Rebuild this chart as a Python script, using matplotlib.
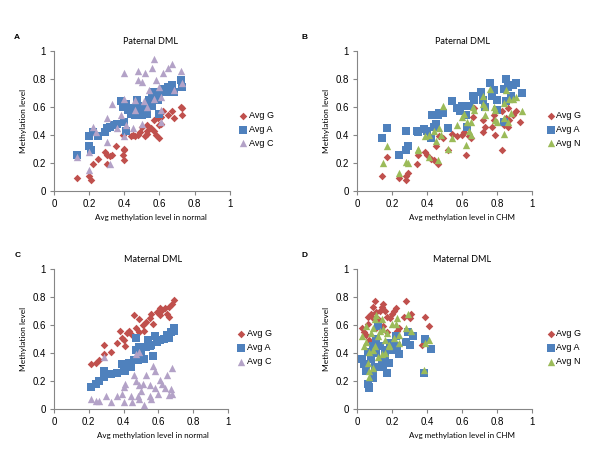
import matplotlib.pyplot as plt

# ---- data (x, y pairs) ----
# Panel A: Paternal DML vs normal
A_G_x = [0.13, 0.20, 0.21, 0.22, 0.25, 0.29, 0.30, 0.30, 0.32, 0.33, 0.35, 0.39, 0.39, 0.40, 0.40, 0.40, 0.44, 0.45, 0.46, 0.48, 0.49,
         0.50, 0.52, 0.53, 0.53, 0.53, 0.55, 0.57, 0.57, 0.58, 0.59, 0.60, 0.60, 0.61, 0.62, 0.65, 0.67, 0.68, 0.72, 0.73, 0.73, 0.61]
A_G_y = [0.09, 0.11, 0.08, 0.19, 0.23, 0.28, 0.26, 0.19, 0.25, 0.26, 0.32, 0.40, 0.26, 0.29, 0.22, 0.30, 0.39, 0.40, 0.39, 0.40, 0.42,
         0.46, 0.39, 0.43, 0.47, 0.41, 0.45, 0.51, 0.43, 0.40, 0.52, 0.47, 0.38, 0.53, 0.57, 0.54, 0.57, 0.52, 0.60, 0.54, 0.59, 0.48]
A_A_x = [0.13, 0.20, 0.20, 0.21, 0.22, 0.25, 0.29, 0.30, 0.32, 0.34, 0.36, 0.38, 0.39, 0.40, 0.41, 0.41, 0.42, 0.44, 0.45, 0.46, 0.47,
         0.48, 0.49, 0.50, 0.51, 0.53, 0.54, 0.55, 0.56, 0.57, 0.59, 0.60, 0.60, 0.62, 0.64, 0.65, 0.67, 0.68, 0.72, 0.73, 0.53, 0.56]
A_A_y = [0.26, 0.32, 0.39, 0.29, 0.42, 0.39, 0.42, 0.45, 0.46, 0.47, 0.48, 0.64, 0.60, 0.49, 0.43, 0.62, 0.58, 0.55, 0.59, 0.54, 0.65,
         0.61, 0.59, 0.54, 0.59, 0.61, 0.65, 0.62, 0.68, 0.71, 0.65, 0.70, 0.55, 0.73, 0.71, 0.74, 0.76, 0.71, 0.79, 0.74, 0.55, 0.61]
A_C_x = [0.13, 0.20, 0.20, 0.22, 0.24, 0.30, 0.30, 0.32, 0.33, 0.36, 0.38, 0.40, 0.40, 0.40, 0.41, 0.45, 0.46, 0.46, 0.48, 0.48,
         0.50, 0.51, 0.52, 0.53, 0.54, 0.56, 0.57, 0.58, 0.57, 0.60, 0.61, 0.61, 0.62, 0.65, 0.67, 0.68, 0.72, 0.73, 0.61, 0.50]
A_C_y = [0.24, 0.28, 0.15, 0.46, 0.42, 0.52, 0.35, 0.19, 0.62, 0.45, 0.54, 0.39, 0.84, 0.66, 0.47, 0.45, 0.65, 0.58, 0.86, 0.79,
         0.78, 0.64, 0.84, 0.60, 0.72, 0.88, 0.94, 0.79, 0.66, 0.74, 0.58, 0.49, 0.84, 0.88, 0.91, 0.72, 0.86, 0.77, 0.67, 0.48]

# Panel B: Paternal DML vs CHM
B_G_x = [0.14, 0.17, 0.24, 0.28, 0.28, 0.29, 0.34, 0.35, 0.39, 0.40, 0.42, 0.44, 0.45, 0.46, 0.47, 0.49, 0.52, 0.54, 0.57, 0.60, 0.61, 0.62,
         0.64, 0.65, 0.66, 0.67, 0.72, 0.72, 0.73, 0.77, 0.78, 0.78, 0.79, 0.83, 0.83, 0.84, 0.85, 0.86, 0.87, 0.89, 0.91, 0.93, 0.86]
B_G_y = [0.11, 0.24, 0.09, 0.08, 0.11, 0.13, 0.19, 0.26, 0.28, 0.26, 0.23, 0.22, 0.32, 0.19, 0.39, 0.38, 0.29, 0.41, 0.39, 0.40, 0.42, 0.26,
         0.39, 0.38, 0.53, 0.59, 0.51, 0.42, 0.46, 0.46, 0.51, 0.54, 0.40, 0.29, 0.57, 0.47, 0.52, 0.59, 0.51, 0.54, 0.57, 0.49, 0.46]
B_A_x = [0.14, 0.17, 0.24, 0.28, 0.28, 0.29, 0.34, 0.35, 0.38, 0.40, 0.42, 0.43, 0.44, 0.45, 0.46, 0.47, 0.49, 0.52, 0.54, 0.57, 0.59, 0.60,
         0.62, 0.63, 0.64, 0.66, 0.67, 0.71, 0.72, 0.73, 0.76, 0.77, 0.78, 0.80, 0.80, 0.84, 0.84, 0.85, 0.85, 0.86, 0.88, 0.89, 0.91, 0.94]
B_A_y = [0.38, 0.45, 0.26, 0.43, 0.29, 0.32, 0.43, 0.42, 0.44, 0.43, 0.38, 0.54, 0.46, 0.48, 0.54, 0.56, 0.56, 0.45, 0.64, 0.59, 0.57, 0.61,
         0.54, 0.46, 0.61, 0.68, 0.65, 0.71, 0.65, 0.60, 0.77, 0.68, 0.72, 0.65, 0.58, 0.49, 0.73, 0.80, 0.64, 0.74, 0.68, 0.76, 0.77, 0.70]
B_N_x = [0.15, 0.17, 0.24, 0.28, 0.29, 0.35, 0.35, 0.39, 0.41, 0.41, 0.44, 0.45, 0.46, 0.47, 0.48, 0.49, 0.52, 0.54, 0.57, 0.60, 0.61, 0.62,
         0.63, 0.64, 0.65, 0.65, 0.66, 0.67, 0.72, 0.72, 0.73, 0.73, 0.76, 0.78, 0.79, 0.79, 0.80, 0.84, 0.84, 0.84, 0.85, 0.86, 0.88, 0.89,
         0.91, 0.94, 0.87]
B_N_y = [0.20, 0.32, 0.13, 0.21, 0.20, 0.30, 0.29, 0.39, 0.40, 0.24, 0.43, 0.36, 0.22, 0.45, 0.40, 0.61, 0.30, 0.38, 0.47, 0.53, 0.55, 0.33,
         0.49, 0.43, 0.49, 0.40, 0.60, 0.58, 0.68, 0.62, 0.54, 0.60, 0.73, 0.60, 0.58, 0.51, 0.49, 0.63, 0.52, 0.41, 0.72, 0.49, 0.56, 0.66,
         0.67, 0.57, 0.66]

# Panel C: Maternal DML vs normal
C_G_x = [0.21, 0.24, 0.26, 0.29, 0.29, 0.33, 0.36, 0.38, 0.39, 0.40, 0.41, 0.42, 0.43, 0.45, 0.46, 0.47, 0.49, 0.49, 0.51, 0.52, 0.53,
         0.55, 0.56, 0.57, 0.59, 0.61, 0.62, 0.64, 0.65, 0.66, 0.66, 0.68, 0.69, 0.61]
C_G_y = [0.32, 0.33, 0.35, 0.46, 0.39, 0.41, 0.47, 0.56, 0.51, 0.49, 0.45, 0.54, 0.56, 0.53, 0.67, 0.58, 0.64, 0.55, 0.60, 0.56, 0.62,
         0.65, 0.68, 0.61, 0.69, 0.67, 0.71, 0.72, 0.68, 0.73, 0.66, 0.75, 0.78, 0.72]
C_A_x = [0.21, 0.24, 0.26, 0.29, 0.29, 0.33, 0.36, 0.39, 0.40, 0.41, 0.43, 0.44, 0.46, 0.47, 0.47, 0.48, 0.49, 0.50, 0.52, 0.53, 0.54,
         0.56, 0.57, 0.58, 0.59, 0.61, 0.63, 0.65, 0.66, 0.67, 0.69, 0.69, 0.55]
C_A_y = [0.16, 0.18, 0.20, 0.23, 0.27, 0.25, 0.26, 0.32, 0.29, 0.27, 0.33, 0.30, 0.35, 0.51, 0.42, 0.35, 0.44, 0.40, 0.36, 0.44, 0.49,
         0.46, 0.38, 0.52, 0.48, 0.49, 0.50, 0.53, 0.51, 0.55, 0.58, 0.56, 0.45]
C_C_x = [0.21, 0.24, 0.26, 0.29, 0.30, 0.33, 0.36, 0.39, 0.40, 0.41, 0.40, 0.44, 0.45, 0.46, 0.47, 0.47, 0.48, 0.49, 0.49, 0.49, 0.50,
         0.51, 0.52, 0.53, 0.55, 0.55, 0.56, 0.57, 0.58, 0.58, 0.60, 0.61, 0.62, 0.64, 0.65, 0.66, 0.67, 0.68, 0.68]
C_C_y = [0.07, 0.06, 0.06, 0.37, 0.09, 0.05, 0.09, 0.11, 0.16, 0.18, 0.05, 0.09, 0.05, 0.24, 0.39, 0.20, 0.09, 0.17, 0.41, 0.07, 0.13,
         0.18, 0.03, 0.24, 0.17, 0.09, 0.07, 0.31, 0.27, 0.15, 0.11, 0.21, 0.18, 0.15, 0.24, 0.10, 0.14, 0.29, 0.11]

# Panel D: Maternal DML vs CHM
D_G_x = [0.03, 0.04, 0.05, 0.06, 0.08, 0.09, 0.09, 0.10, 0.11, 0.12, 0.13, 0.14, 0.15, 0.15, 0.16, 0.17, 0.19, 0.20, 0.21, 0.22, 0.23,
         0.24, 0.27, 0.28, 0.30, 0.31, 0.39, 0.37, 0.41, 0.07, 0.11, 0.17, 0.06]
D_G_y = [0.58, 0.55, 0.53, 0.61, 0.68, 0.65, 0.73, 0.77, 0.69, 0.64, 0.70, 0.73, 0.75, 0.59, 0.70, 0.66, 0.65, 0.68, 0.70, 0.72, 0.56,
         0.58, 0.66, 0.77, 0.65, 0.68, 0.66, 0.46, 0.59, 0.49, 0.58, 0.55, 0.66]
D_A_x = [0.03, 0.04, 0.05, 0.06, 0.07, 0.07, 0.08, 0.09, 0.09, 0.10, 0.11, 0.12, 0.13, 0.14, 0.15, 0.16, 0.16, 0.17, 0.18, 0.19, 0.20,
         0.22, 0.23, 0.24, 0.28, 0.29, 0.30, 0.32, 0.38, 0.39, 0.42, 0.09, 0.06, 0.11, 0.17]
D_A_y = [0.36, 0.32, 0.27, 0.18, 0.16, 0.15, 0.36, 0.24, 0.22, 0.30, 0.40, 0.59, 0.45, 0.34, 0.30, 0.40, 0.35, 0.26, 0.33, 0.47, 0.42,
         0.52, 0.45, 0.39, 0.48, 0.55, 0.46, 0.52, 0.26, 0.50, 0.43, 0.45, 0.41, 0.50, 0.42]
D_N_x = [0.03, 0.04, 0.05, 0.06, 0.07, 0.07, 0.08, 0.09, 0.09, 0.09, 0.10, 0.11, 0.12, 0.12, 0.13, 0.14, 0.15, 0.16, 0.16, 0.17, 0.18,
         0.20, 0.21, 0.22, 0.23, 0.24, 0.24, 0.28, 0.29, 0.31, 0.38, 0.39, 0.41, 0.10, 0.07, 0.14, 0.18, 0.05]
D_N_y = [0.52, 0.45, 0.48, 0.33, 0.27, 0.23, 0.54, 0.42, 0.29, 0.58, 0.64, 0.67, 0.52, 0.37, 0.56, 0.64, 0.57, 0.49, 0.40, 0.54, 0.46,
         0.61, 0.51, 0.61, 0.65, 0.47, 0.53, 0.58, 0.68, 0.56, 0.28, 0.47, 0.49, 0.45, 0.41, 0.39, 0.45, 0.59]

RED = "#C0504D"
BLUE = "#4F81BD"
GREEN = "#9BBB59"
LILAC = "#B3A2C7"
GREY = "#868686"

fig = plt.figure(figsize=(6, 4.5), dpi=100)
plt.rcParams['font.family'] = ['Liberation Sans', 'DejaVu Sans']


def panel(pos, letter, title, xlabel, series, leg_x, title_x, letter_x):
    ax = fig.add_axes(pos)
    for xs, ys, mk, col, lab, sz in series:
        ax.scatter(xs, ys, marker=mk, s=sz, color=col, label=lab, linewidths=0, zorder=3)
    ax.set_xlim(0, 1)
    ax.set_ylim(0, 1)
    ax.set_xticks([0, 0.2, 0.4, 0.6, 0.8, 1])
    ax.set_yticks([0, 0.2, 0.4, 0.6, 0.8, 1])
    ax.set_xticklabels(["0", "0.2", "0.4", "0.6", "0.8", "1"])
    ax.set_yticklabels(["0", "0.2", "0.4", "0.6", "0.8", "1"])
    for s in ["top", "right"]:
        ax.spines[s].set_visible(False)
    for s in ["left", "bottom"]:
        ax.spines[s].set_color(GREY)
        ax.spines[s].set_linewidth(0.8)
    ax.tick_params(direction="out", length=3, width=0.8, color=GREY, labelsize=7, pad=3)
    ax.text(title_x, 1.07, title, transform=ax.transAxes, ha="center", va="center", fontsize=6.5, family="Lato")
    ax.text(title_x, -0.19, xlabel, transform=ax.transAxes, ha="center", va="center", fontsize=5.8, family="Lato")
    ax.set_ylabel("Methylation level", fontsize=6, family="Lato", labelpad=4)
    ax.text(letter_x, 1.1, letter, transform=ax.transAxes, ha="center", va="center", fontsize=6, fontweight="bold")
    ax.legend(loc="center left", bbox_to_anchor=(leg_x, 0.44), frameon=False, fontsize=6.5,
              handletextpad=0.0, labelspacing=0.55, borderpad=0, handlelength=1.2, scatterpoints=1)
    return ax


panel([0.09, 0.5756, 0.293, 0.311], "A", "Paternal DML", "Avg methylation level in normal",
      [(A_G_x, A_G_y, "D", RED, "Avg G", 15),
       (A_A_x, A_A_y, "s", BLUE, "Avg A", 27),
       (A_C_x, A_C_y, "^", LILAC, "Avg C", 28)], 1.02, 0.55, -0.21)
panel([0.595, 0.5756, 0.2917, 0.311], "B", "Paternal DML", "Avg methylation level in CHM",
      [(B_G_x, B_G_y, "D", RED, "Avg G", 15),
       (B_A_x, B_A_y, "s", BLUE, "Avg A", 27),
       (B_N_x, B_N_y, "^", GREEN, "Avg N", 28)], 1.05, 0.6, -0.30)
panel([0.09, 0.0911, 0.29, 0.311], "C", "Maternal DML", "Avg methylation level in normal",
      [(C_G_x, C_G_y, "D", RED, "Avg G", 15),
       (C_A_x, C_A_y, "s", BLUE, "Avg A", 27),
       (C_C_x, C_C_y, "^", LILAC, "Avg C", 28)], 1.02, 0.57, -0.21)
panel([0.595, 0.0911, 0.2917, 0.311], "D", "Maternal DML", "Avg methylation level in CHM",
      [(D_G_x, D_G_y, "D", RED, "Avg G", 15),
       (D_A_x, D_A_y, "s", BLUE, "Avg A", 27),
       (D_N_x, D_N_y, "^", GREEN, "Avg N", 28)], 1.05, 0.6, -0.30)

fig.savefig("out.png", dpi=100)
